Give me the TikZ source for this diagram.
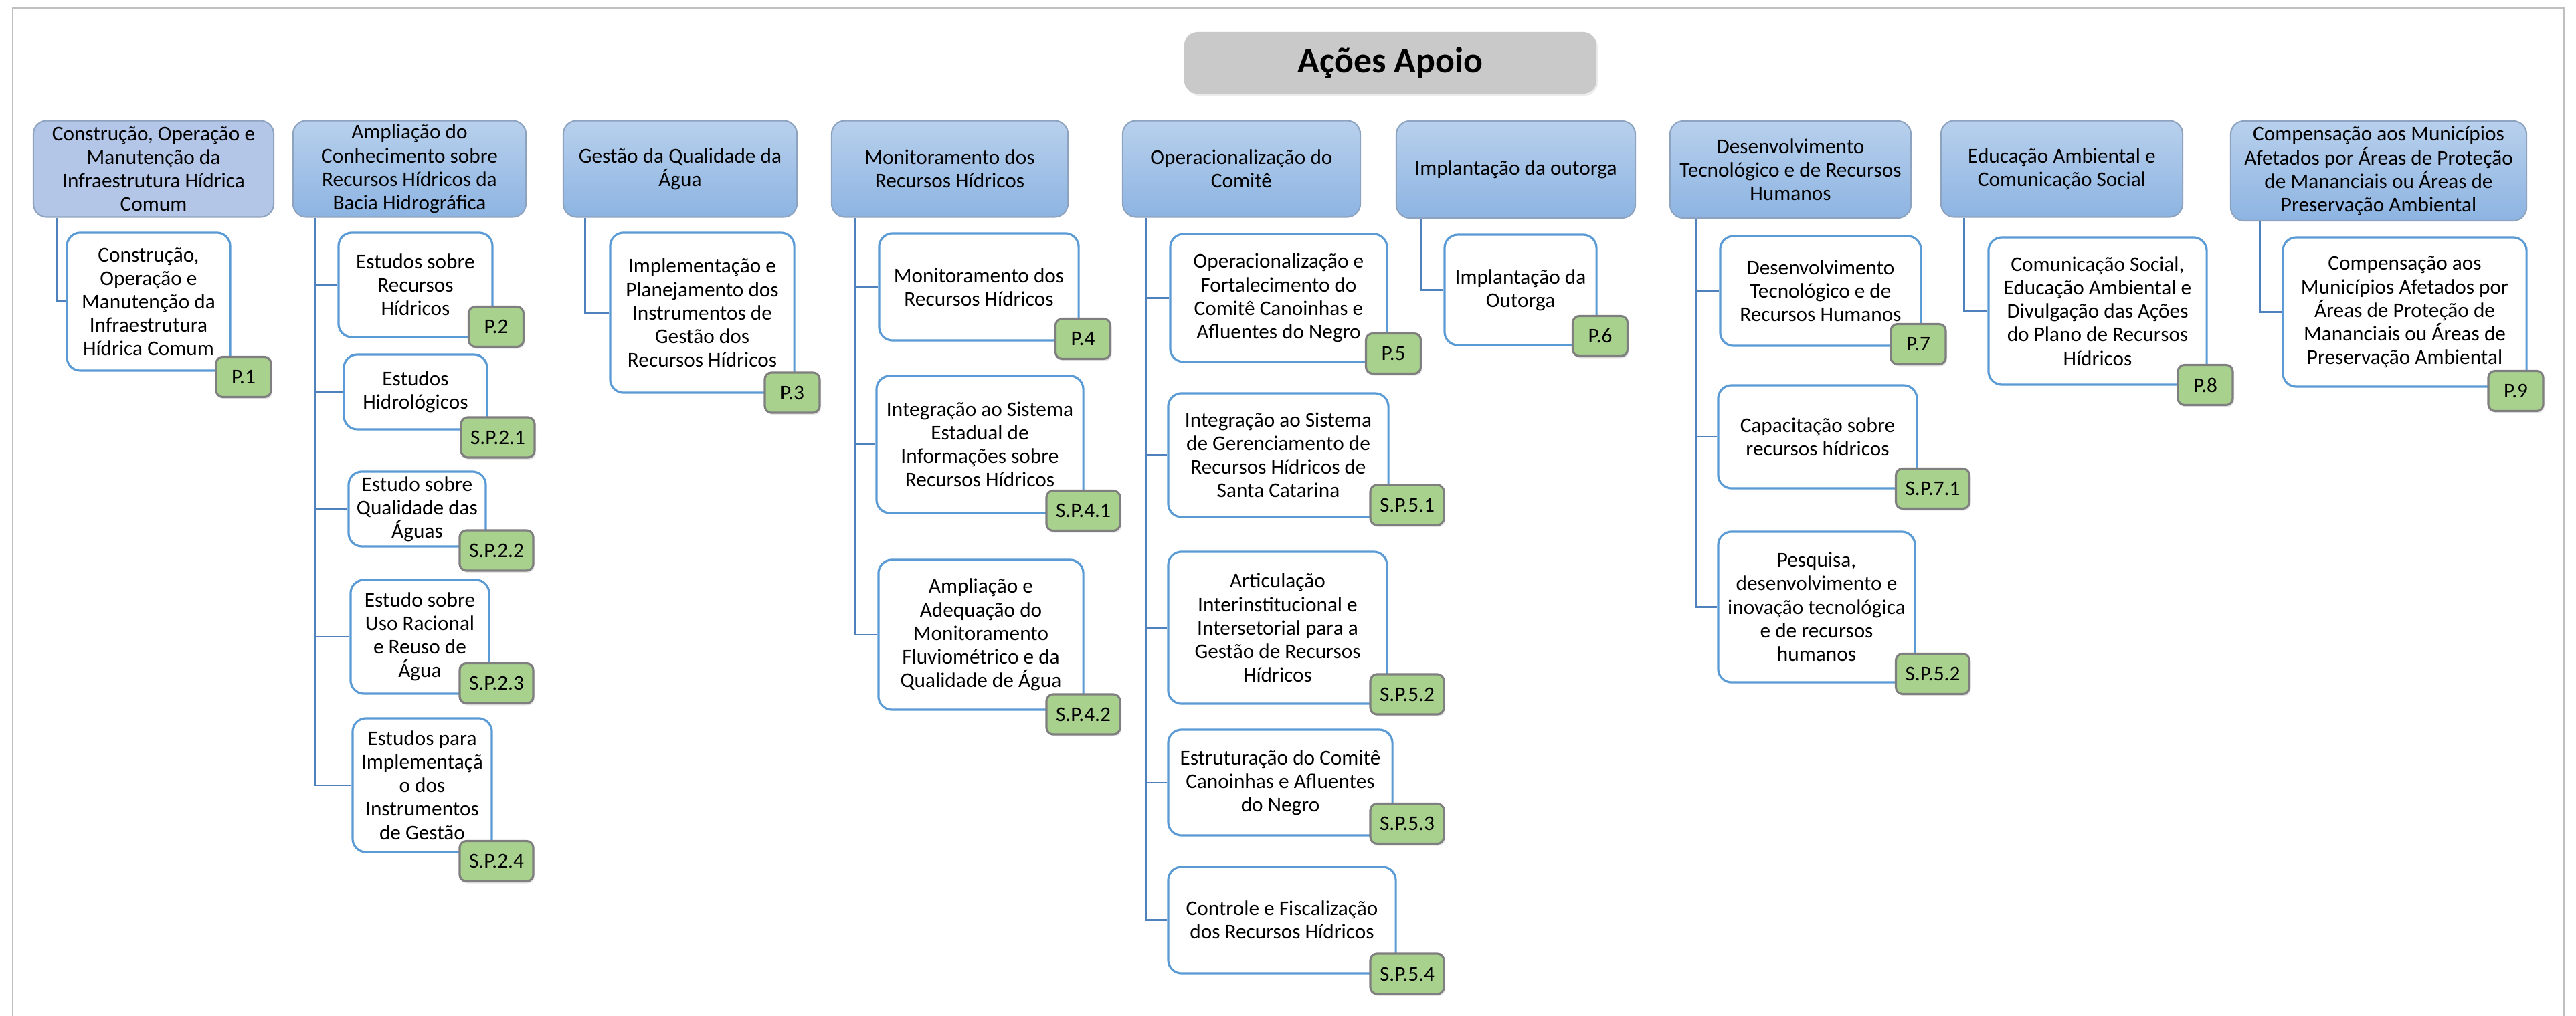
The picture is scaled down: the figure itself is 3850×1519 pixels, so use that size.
\documentclass[tikz,border=0pt]{standalone}
\usepackage{fontspec}
\setmainfont{Carlito}
\usetikzlibrary{shadows}

\definecolor{hdtop}{HTML}{B8D0EC}
\definecolor{hdbot}{HTML}{8DB4E2}
\definecolor{hdflat}{HTML}{B4C6E7}
\definecolor{hdline}{HTML}{8EA3BF}
\definecolor{cdline}{HTML}{5B9BD5}
\definecolor{conncol}{HTML}{4F81BD}
\definecolor{tagfill}{HTML}{A9D18E}
\definecolor{tagline}{HTML}{7F7F7F}
\definecolor{titlefill}{HTML}{C9C9C9}
\definecolor{framecol}{HTML}{C0C0C0}

\begin{document}
\begin{tikzpicture}[x=0.01cm,y=-0.01cm,
  txt/.style={font=\fontsize{8.9}{10}\selectfont,align=center,inner sep=0pt},
  hdbox/.style={txt,draw=hdline,line width=0.6pt,rounded corners=0.2cm,
    top color=hdtop,bottom color=hdbot,minimum height=1.44cm},
  hdflatbox/.style={hdbox,top color=hdflat,bottom color=hdflat},
  cdbox/.style={txt,draw=cdline,line width=0.9pt,fill=white,rounded corners=0.2cm},
  tagbox/.style={txt,draw=tagline,line width=0.9pt,fill=tagfill,rounded corners=0.1cm,
    minimum width=0.82cm,minimum height=0.6cm,inner xsep=0.14cm,
    drop shadow={opacity=0.2,shadow xshift=0.02cm,shadow yshift=-0.03cm}},
  conn/.style={draw=conncol,line width=0.85pt}]

\useasboundingbox (0,0) rectangle (3850,1519);
\draw[framecol,line width=0.8pt] (19,1519) -- (19,12) -- (3832,12) -- (3832,1519);

% title
\node[fill=titlefill,rounded corners=0.2cm,minimum width=6.16cm,minimum height=0.92cm,
  font=\fontsize{15.3}{17}\selectfont\bfseries,
  drop shadow={opacity=0.15,shadow xshift=0.02cm,shadow yshift=-0.03cm}] (title) at (2078,94) {Ações Apoio};

% headers
\node[hdflatbox,minimum width=3.59cm] (h1) at (229.5,252.5) {Construção, Operação e\\Manutenção da\\Infraestrutura Hídrica\\Comum};
\node[hdbox,minimum width=3.48cm] (h2) at (612,252.5) {Ampliação do\\Conhecimento sobre\\Recursos Hídricos da\\Bacia Hidrográfica};
\node[hdbox,minimum width=3.49cm] (h3) at (1016.5,252.5) {Gestão da Qualidade da\\Água};
\node[hdbox,minimum width=3.53cm] (h4) at (1419.5,252.5) {Monitoramento dos\\Recursos Hídricos};
\node[hdbox,minimum width=3.55cm] (h5) at (1855.5,252.5) {Operacionalização do\\Comitê};
\node[hdbox,minimum width=3.57cm,minimum height=1.45cm] (h6) at (2265.5,253.5) {Implantação da outorga};
\node[hdbox,minimum width=3.60cm,minimum height=1.45cm] (h7) at (2676,253.5) {Desenvolvimento\\Tecnológico e de Recursos\\Humanos};
\node[hdbox,minimum width=3.61cm] (h8) at (3081.5,252.5) {Educação Ambiental e\\Comunicação Social};
\node[hdbox,minimum width=4.42cm,minimum height=1.49cm] (h9) at (3555,255.5) {Compensação aos Municípios\\Afetados por Áreas de Proteção\\de Mananciais ou Áreas de\\Preservação Ambiental};

% children
\node[cdbox,minimum width=2.44cm,minimum height=2.06cm] (c1) at (222,451) {Construção,\\Operação e\\Manutenção da\\Infraestrutura\\Hídrica Comum};

\node[cdbox,minimum width=2.30cm,minimum height=1.56cm] (c21) at (621,426) {Estudos sobre\\Recursos\\Hídricos};
\node[cdbox,minimum width=2.14cm,minimum height=1.12cm] (c22) at (621,586) {Estudos\\Hidrológicos};
\node[cdbox,minimum width=2.05cm,minimum height=1.12cm] (c23) at (623.5,761) {Estudo sobre\\Qualidade das\\Águas};
\node[cdbox,minimum width=2.07cm,minimum height=1.70cm] (c24) at (627.5,952) {Estudo sobre\\Uso Racional\\e Reuso de\\Água};
\node[cdbox,minimum width=2.08cm,minimum height=2.00cm] (c25) at (631,1174) {Estudos para\\Implementaçã\\o dos\\Instrumentos\\de Gestão};

\node[cdbox,minimum width=2.75cm,minimum height=2.39cm] (c3) at (1049.5,467.5) {Implementação e\\Planejamento dos\\Instrumentos de\\Gestão dos\\Recursos Hídricos};

\node[cdbox,minimum width=2.98cm,minimum height=1.60cm] (c41) at (1463,429) {Monitoramento dos\\Recursos Hídricos};
\node[cdbox,minimum width=3.09cm,minimum height=2.05cm] (c42) at (1464.5,664.5) {Integração ao Sistema\\Estadual de\\Informações sobre\\Recursos Hídricos};
\node[cdbox,minimum width=3.06cm,minimum height=2.24cm] (c43) at (1466,949) {Ampliação e\\Adequação do\\Monitoramento\\Fluviométrico e da\\Qualidade de Água};

\node[cdbox,minimum width=3.24cm,minimum height=1.91cm] (c51) at (1911,445.5) {Operacionalização e\\Fortalecimento do\\Comitê Canoinhas e\\Afluentes do Negro};
\node[cdbox,minimum width=3.29cm,minimum height=1.85cm] (c52) at (1910.5,680.5) {Integração ao Sistema\\de Gerenciamento de\\Recursos Hídricos de\\Santa Catarina};
\node[cdbox,minimum width=3.27cm,minimum height=2.27cm] (c53) at (1909.5,938.5) {Articulação\\Interinstitucional e\\Intersetorial para a\\Gestão de Recursos\\Hídricos};
\node[cdbox,minimum width=3.35cm,minimum height=1.58cm] (c54) at (1913.5,1170) {Estruturação do Comitê\\Canoinhas e Afluentes\\do Negro};
\node[cdbox,minimum width=3.40cm,minimum height=1.59cm] (c55) at (1916,1375.5) {Controle e Fiscalização\\dos Recursos Hídricos};

\node[cdbox,minimum width=2.27cm,minimum height=1.65cm] (c6) at (2272.5,433.5) {Implantação da\\Outorga};

\node[cdbox,minimum width=3.00cm,minimum height=1.64cm] (c71) at (2721,435) {Desenvolvimento\\Tecnológico e de\\Recursos Humanos};
\node[cdbox,minimum width=2.97cm,minimum height=1.54cm] (c72) at (2716.5,653) {Capacitação sobre\\recursos hídricos};
\node[cdbox,minimum width=2.94cm,minimum height=2.25cm] (c73) at (2715,907.5) {Pesquisa,\\desenvolvimento e\\inovação tecnológica\\e de recursos\\humanos};

\node[cdbox,minimum width=3.26cm,minimum height=2.20cm] (c8) at (3135,465) {Comunicação Social,\\Educação Ambiental e\\Divulgação das Ações\\do Plano de Recursos\\Hídricos};

\node[cdbox,minimum width=3.64cm,minimum height=2.23cm] (c9) at (3594,466.5) {Compensação aos\\Municípios Afetados por\\Áreas de Proteção de\\Mananciais ou Áreas de\\Preservação Ambiental};

% tags
\node[tagbox] (t1) at (364,563.5) {P.1};
\node[tagbox] (t21) at (741.5,488.5) {P.2};
\node[tagbox] (t22) at (744,654) {S.P.2.1};
\node[tagbox] (t23) at (742,823) {S.P.2.2};
\node[tagbox] (t24) at (742,1021.5) {S.P.2.3};
\node[tagbox] (t25) at (742,1287.5) {S.P.2.4};
\node[tagbox] (t3) at (1184,587) {P.3};
\node[tagbox] (t41) at (1618.5,506.5) {P.4};
\node[tagbox] (t42) at (1619,763.5) {S.P.4.1};
\node[tagbox] (t43) at (1619,1068) {S.P.4.2};
\node[tagbox] (t51) at (2082.5,528.5) {P.5};
\node[tagbox] (t52) at (2103,755) {S.P.5.1};
\node[tagbox] (t53) at (2103,1038) {S.P.5.2};
\node[tagbox] (t54) at (2103,1231.5) {S.P.5.3};
\node[tagbox] (t55) at (2103,1456) {S.P.5.4};
\node[tagbox] (t6) at (2391.5,502.5) {P.6};
\node[tagbox] (t71) at (2867,514.5) {P.7};
\node[tagbox] (t72) at (2888.5,730.5) {S.P.7.1};
\node[tagbox] (t73) at (2888.5,1007.5) {S.P.5.2};
\node[tagbox] (t8) at (3296,575.5) {P.8};
\node[tagbox] (t9) at (3760,584.5) {P.9};

% connectors
\draw[conn] ([xshift=0.37cm]h1.south west) |- (c1.west);
\foreach \c in {c21,c22,c23,c24,c25}
  \draw[conn] ([xshift=0.35cm]h2.south west) |- (\c.west);
\draw[conn] ([xshift=0.34cm]h3.south west) |- (c3.west);
\foreach \c in {c41,c42,c43}
  \draw[conn] ([xshift=0.37cm]h4.south west) |- (\c.west);
\foreach \c in {c51,c52,c53,c54,c55}
  \draw[conn] ([xshift=0.36cm]h5.south west) |- (\c.west);
\draw[conn] ([xshift=0.38cm]h6.south west) |- (c6.west);
\foreach \c in {c71,c72,c73}
  \draw[conn] ([xshift=0.40cm]h7.south west) |- (\c.west);
\draw[conn] ([xshift=0.36cm]h8.south west) |- (c8.west);
\draw[conn] ([xshift=0.45cm]h9.south west) |- (c9.west);
\end{tikzpicture}
\end{document}
